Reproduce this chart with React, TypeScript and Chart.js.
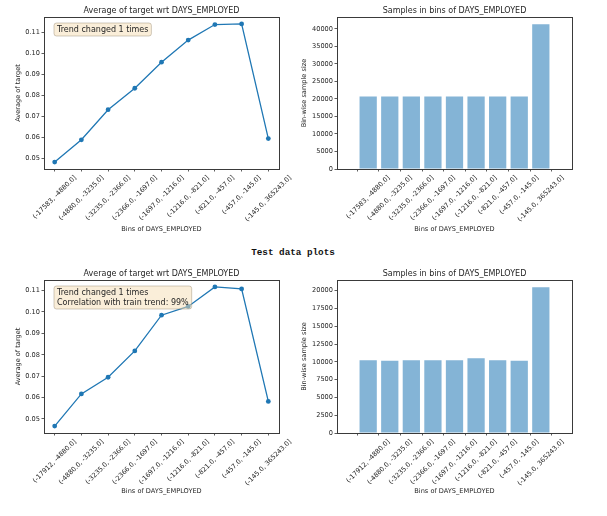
import React, { useEffect, useRef } from "react";
import { Chart, registerables } from "chart.js";

Chart.register(...registerables);

// ---------- data ----------
const trainBins = [
  "(-17583, -4880.0]",
  "(-4880.0, -3235.0]",
  "(-3235.0, -2366.0]",
  "(-2366.0, -1697.0]",
  "(-1697.0, -1216.0]",
  "(-1216.0, -821.0]",
  "(-821.0, -457.0]",
  "(-457.0, -145.0]",
  "(-145.0, 365243.0]",
];
const testBins = [
  "(-17912, -4880.0]",
  "(-4880.0, -3235.0]",
  "(-3235.0, -2366.0]",
  "(-2366.0, -1697.0]",
  "(-1697.0, -1216.0]",
  "(-1216.0, -821.0]",
  "(-821.0, -457.0]",
  "(-457.0, -145.0]",
  "(-145.0, 365243.0]",
];
const trainAvgTarget = [0.0483, 0.0589, 0.0732, 0.0834, 0.0958, 0.1063, 0.1137, 0.114, 0.0595];
const testAvgTarget = [0.0467, 0.0617, 0.0695, 0.0818, 0.0985, 0.1026, 0.1117, 0.1108, 0.0582];
const trainSamples = [20650, 20650, 20650, 20650, 20650, 20650, 20650, 20650, 41300];
const testSamples = [10230, 10140, 10230, 10230, 10230, 10520, 10230, 10140, 20480];
const trainNote = ["Trend changed 1 times"];
const testNote = ["Trend changed 1 times", "Correlation with train trend: 99%"];
const lineTitle = "Average of target wrt DAYS_EMPLOYED";
const barTitle = "Samples in bins of DAYS_EMPLOYED";
const xTitle = "Bins of DAYS_EMPLOYED";
const lineYTitle = "Average of target";
const barYTitle = "Bin-wise sample size";
const sectionTitle = "Test data plots";

// ---------- styles ----------
const FONT = "'DejaVu Sans', sans-serif";
const TEXT = "#262626";
const BLUE = "#1f77b4";
const TICK_SIZE = 6.6;

type PanelProps = {
  left: number;
  top: number;
  width: number;
  height: number;
  kind: "line" | "bar";
  labels: string[];
  values: number[];
  title: string;
  yTitle: string;
  yAxisWidth: number;
  xAxisHeight: number;
  padTop: number;
  padRight: number;
  yStep: number;
  yDecimals: number;
  yTitlePad: number;
  xTitlePad: number;
  note?: string[];
};

function Panel(p: PanelProps) {
  const ref = useRef<HTMLCanvasElement | null>(null);

  useEffect(() => {
    if (!ref.current) return;
    const n = p.values.length;
    const dMin = p.kind === "bar" ? 0 : Math.min(...p.values);
    const dMax = Math.max(...p.values);
    const span = dMax - dMin;
    const yMin = p.kind === "bar" ? 0 : dMin - 0.05 * span;
    const yMax = dMax + 0.05 * span;
    const xPad = p.kind === "bar" ? 0.84 : 0.4;

    const framePlugin = {
      id: "frame",
      afterDatasetsDraw(chart: any) {
        const { ctx, chartArea: a } = chart;
        ctx.save();
        ctx.strokeStyle = "#3a3a3a";
        ctx.lineWidth = 1;
        ctx.strokeRect(Math.round(a.left) + 0.5, Math.round(a.top) + 0.5, Math.round(a.right - a.left), Math.round(a.bottom - a.top));
        ctx.restore();
      },
      afterDraw(chart: any) {
        const { ctx, chartArea: a } = chart;
        ctx.save();
        // title
        ctx.font = `8px ${FONT}`;
        ctx.fillStyle = TEXT;
        ctx.textAlign = "center";
        ctx.textBaseline = "middle";
        ctx.fillText(p.title, (a.left + a.right) / 2, a.top - 6.5);

        // rotated x tick labels, centred on their ticks (matplotlib style)
        const xs = chart.scales.x;
        ctx.font = `${TICK_SIZE}px ${FONT}`;
        const h = TICK_SIZE * 1.17;
        p.labels.forEach((s, i) => {
          const px = xs.getPixelForValue(i);
          const w = ctx.measureText(s).width;
          const half = ((w + h) * Math.SQRT1_2) / 2;
          ctx.save();
          ctx.translate(px, a.bottom + 5 + half);
          ctx.rotate(-Math.PI / 4);
          ctx.textAlign = "center";
          ctx.textBaseline = "middle";
          ctx.fillText(s, 0, 0);
          ctx.restore();
        });

        // annotation box
        if (p.note) {
          const lh = 10;
          ctx.font = `8px ${FONT}`;
          let w = 0;
          p.note.forEach((s) => (w = Math.max(w, ctx.measureText(s).width)));
          const bx = a.left + 10;
          const by = a.top + 6;
          const bw = w + 6;
          const bh = p.note.length * lh + 3;
          ctx.beginPath();
          const r = 2.5;
          ctx.moveTo(bx + r, by);
          ctx.lineTo(bx + bw - r, by);
          ctx.quadraticCurveTo(bx + bw, by, bx + bw, by + r);
          ctx.lineTo(bx + bw, by + bh - r);
          ctx.quadraticCurveTo(bx + bw, by + bh, bx + bw - r, by + bh);
          ctx.lineTo(bx + r, by + bh);
          ctx.quadraticCurveTo(bx, by + bh, bx, by + bh - r);
          ctx.lineTo(bx, by + r);
          ctx.quadraticCurveTo(bx, by, bx + r, by);
          ctx.closePath();
          ctx.fillStyle = "rgba(245,222,179,0.5)";
          ctx.fill();
          ctx.strokeStyle = "rgba(150,135,110,0.55)";
          ctx.lineWidth = 0.8;
          ctx.stroke();
          ctx.fillStyle = TEXT;
          ctx.textAlign = "left";
          p.note.forEach((s, i) => ctx.fillText(s, bx + 3, by + 1.5 + lh / 2 + i * lh));
        }
        ctx.restore();
      },
    };

    const points = p.values.map((v, i) => ({ x: i, y: v }));
    const tickFont = { family: FONT, size: TICK_SIZE };

    const chart = new Chart(ref.current, {
      type: p.kind as any,
      data: {
        datasets: [
          p.kind === "line"
            ? {
                data: points,
                borderColor: BLUE,
                backgroundColor: BLUE,
                borderWidth: 1.3,
                pointRadius: 2.4,
                pointBorderWidth: 0,
                tension: 0,
              }
            : {
                data: points,
                backgroundColor: "rgba(31,119,180,0.55)",
                borderWidth: 0,
                barPercentage: 0.8,
                categoryPercentage: 1,
              },
        ] as any,
      },
      options: {
        animation: false,
        responsive: false,
        devicePixelRatio: 1,
        events: [],
        layout: { padding: { top: p.padTop, right: p.padRight, left: 0, bottom: 0 } },
        plugins: { legend: { display: false }, title: { display: false }, tooltip: { enabled: false } },
        scales: {
          x: {
            type: "linear",
            min: -xPad,
            max: n - 1 + xPad,
            afterBuildTicks: (axis: any) => {
              axis.ticks = p.labels.map((_, i) => ({ value: i }));
            },
            afterFit: (s: any) => {
              s.height = p.xAxisHeight;
            },
            grid: { drawOnChartArea: false, drawTicks: true, tickLength: 2.5, color: "#333", lineWidth: 0.8 },
            border: { display: false },
            ticks: {
              display: false,
              autoSkip: false,
              font: tickFont,
              color: TEXT,
              callback: (v: any) => p.labels[Math.round(Number(v))] ?? "",
            },
            title: {
              display: true,
              text: xTitle,
              font: tickFont,
              color: TEXT,
              padding: { top: 0, bottom: p.xTitlePad },
            },
          },
          y: {
            type: "linear",
            min: yMin,
            max: yMax,
            afterBuildTicks: (axis: any) => {
              const t: any[] = [];
              const start = Math.ceil(yMin / p.yStep - 1e-9);
              for (let k = start; k * p.yStep <= yMax + 1e-12; k++) t.push({ value: k * p.yStep });
              axis.ticks = t;
            },
            afterFit: (s: any) => {
              s.width = p.yAxisWidth;
            },
            grid: { drawOnChartArea: false, drawTicks: true, tickLength: 2.5, color: "#333", lineWidth: 0.8 },
            border: { display: false },
            ticks: {
              padding: 1.5,
              font: tickFont,
              color: TEXT,
              callback: (v: any) => Number(v).toFixed(p.yDecimals),
            },
            title: {
              display: true,
              text: p.yTitle,
              font: tickFont,
              color: TEXT,
              padding: { top: p.yTitlePad, bottom: 0 },
            },
          },
        },
      } as any,
      plugins: [framePlugin],
    });
    return () => chart.destroy();
  }, []);

  return (
    <canvas
      ref={ref}
      width={p.width}
      height={p.height}
      style={{ position: "absolute", left: p.left, top: p.top, width: p.width, height: p.height }}
    />
  );
}

export default function App() {
  return (
    <div style={{ position: "absolute", left: 0, top: 0, width: 607, height: 516, background: "#fff", overflow: "hidden" }}>
      <Panel
        left={0} top={0} width={300} height={240} kind="line"
        labels={trainBins} values={trainAvgTarget} title={lineTitle} yTitle={lineYTitle}
        yAxisWidth={44} xAxisHeight={71} padTop={17} padRight={21}
        yStep={0.01} yDecimals={2} yTitlePad={14.5} xTitlePad={7} note={trainNote}
      />
      <Panel
        left={300} top={0} width={307} height={240} kind="bar"
        labels={trainBins} values={trainSamples} title={barTitle} yTitle={barYTitle}
        yAxisWidth={37} xAxisHeight={71} padTop={17} padRight={35}
        yStep={5000} yDecimals={0} yTitlePad={0.5} xTitlePad={7}
      />
      <div
        style={{
          position: "absolute", left: 193, width: 200, top: 246, height: 14, lineHeight: "14px",
          textAlign: "center", fontFamily: "'Liberation Mono', 'Courier New', monospace",
          fontWeight: "bold", fontSize: 9.3, color: "#111",
        }}
      >
        {sectionTitle}
      </div>
      <Panel
        left={0} top={262} width={300} height={240} kind="line"
        labels={testBins} values={testAvgTarget} title={lineTitle} yTitle={lineYTitle}
        yAxisWidth={44} xAxisHeight={69} padTop={18} padRight={21}
        yStep={0.01} yDecimals={2} yTitlePad={14.5} xTitlePad={6.3} note={testNote}
      />
      <Panel
        left={300} top={262} width={307} height={240} kind="bar"
        labels={testBins} values={testSamples} title={barTitle} yTitle={barYTitle}
        yAxisWidth={37} xAxisHeight={69} padTop={18} padRight={35}
        yStep={2500} yDecimals={0} yTitlePad={0.5} xTitlePad={6.3}
      />
    </div>
  );
}
